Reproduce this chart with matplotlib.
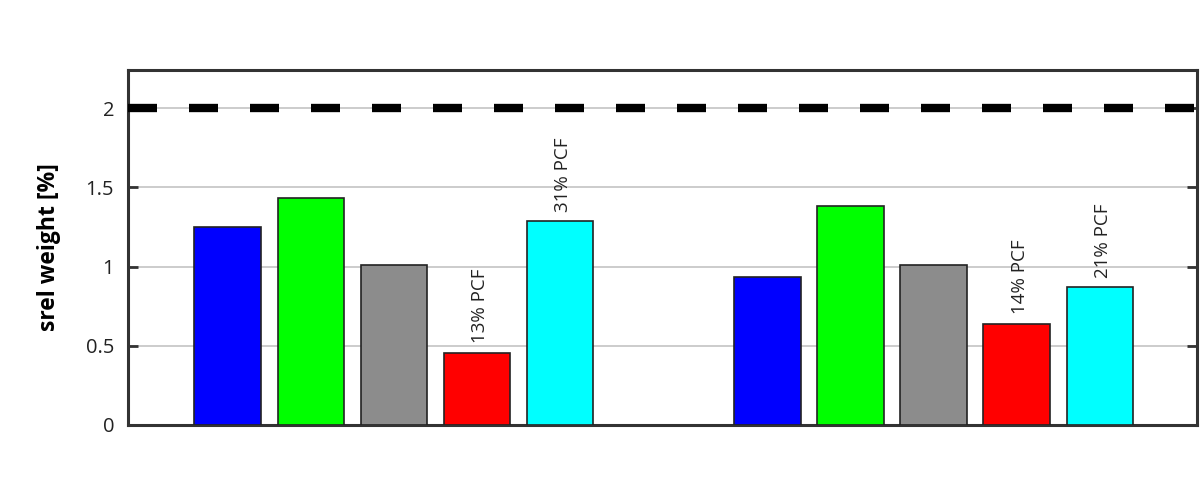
import numpy as np
import matplotlib.pyplot as plt

plt.rcParams['font.family'] = ['Open Sans', 'DejaVu Sans']

# bar values per group (5 bars each)
group1 = [1.25, 1.43, 1.01, 0.455, 1.285]
group2 = [0.935, 1.385, 1.01, 0.64, 0.87]
colors = ['#0000ff', '#00ff00', '#8c8c8c', '#ff0000', '#00ffff']
labels1 = {3: '13% PCF', 4: '31% PCF'}
labels2 = {3: '14% PCF', 4: '21% PCF'}
ref_level = 2.0

fig = plt.figure(figsize=(12.02, 4.98), dpi=100)
ax = fig.add_axes([0.1065, 0.1466, 0.8893, 0.7128])

n = len(group1)
x1 = np.arange(n)
x2 = np.arange(n) + n + 1.5

for xs, vals, labs in [(x1, group1, labels1), (x2, group2, labels2)]:
    ax.bar(xs, vals, width=0.8, color=colors, edgecolor='#222222', linewidth=1.2, zorder=3)
    for i, txt in labs.items():
        ax.text(xs[i] + 0.04, vals[i] + 0.06, txt, rotation=90, ha='center', va='bottom',
                fontsize=13.5, color='#222222', zorder=4)

ax.axhline(ref_level, color='black', linewidth=6, dashes=(3.48, 3.84), zorder=4)

ax.set_xlim(-1.2, 11.67)
ax.set_ylim(0, 2.24)
ax.set_yticks([0, 0.5, 1, 1.5, 2])
ax.set_yticklabels(['0', '0.5', '1', '1.5', '2'])
ax.set_xticks([])
ax.yaxis.grid(True, color='#c8c8c8', linewidth=1.3, zorder=0)
ax.tick_params(axis='y', direction='in', length=7, width=2, color='#333333',
               labelsize=14.5, left=True, right=True, pad=10, labelcolor='#222222')
for s in ax.spines.values():
    s.set_linewidth(2.2)
    s.set_color('#333333')
ax.set_ylabel('srel weight [%]', fontsize=16.5, fontweight='bold', labelpad=18)

fig.savefig('out.png', dpi=100)
